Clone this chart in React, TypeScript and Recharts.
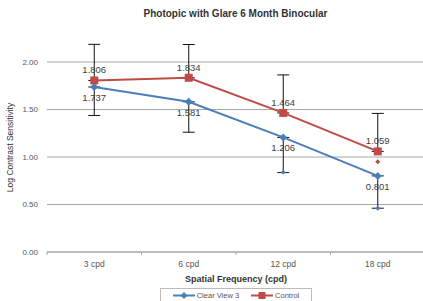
import {
  LineChart,
  Line,
  XAxis,
  YAxis,
  CartesianGrid,
  ErrorBar,
  LabelList,
} from "recharts";

const categories = ["3 cpd", "6 cpd", "12 cpd", "18 cpd"];
const clearView = [1.737, 1.581, 1.206, 0.801];
const control = [1.806, 1.834, 1.464, 1.059];
// blue bars hang below, red bars rise above
const clearViewErrDown = [0.3, 0.32, 0.37, 0.34];
const controlErrUp = [0.38, 0.35, 0.4, 0.4];
// small coloured end markers seen on some bars
const clearViewTips = [null, null, 0.84, 0.46];
const controlTips = [null, null, null, 0.95];
const yTicks = [0, 0.5, 1, 1.5, 2];

const BLUE = "#4a7ebb";
const RED = "#be4b48";
const FONT = "'Liberation Sans', Arial, sans-serif";

const data = categories.map((cat, i) => ({
  cat,
  clearView: clearView[i],
  control: control[i],
  cvErr: [clearViewErrDown[i], 0],
  ctErr: [0, controlErrUp[i]],
  cvTip: clearViewTips[i],
  ctTip: controlTips[i],
}));

const fmt = (v: any) => Number(v).toFixed(3);

function Diamond(props: any) {
  const { cx, cy, fill, r = 3.5 } = props;
  if (cx == null || cy == null) return null;
  return (
    <polygon
      points={`${cx},${cy - r} ${cx + r},${cy} ${cx},${cy + r} ${cx - r},${cy}`}
      fill={fill}
    />
  );
}

function Square(props: any) {
  const { cx, cy, fill } = props;
  if (cx == null || cy == null) return null;
  return <rect x={cx - 4} y={cy - 4} width={8} height={8} fill={fill} />;
}

// category label plus Excel-style tick marks on the band edges
function CatTick(props: any) {
  const { x, y, payload, index, width, visibleTicksCount } = props;
  const count = visibleTicksCount || categories.length;
  const half = width ? width / count / 2 : 0;
  const axisY = y - 9;
  const last = index === count - 1;
  return (
    <g>
      {half > 0 && (
        <line x1={x - half} x2={x - half} y1={axisY} y2={axisY + 3} stroke="#a6a6a6" />
      )}
      {half > 0 && last && (
        <line x1={x + half} x2={x + half} y1={axisY} y2={axisY + 3} stroke="#a6a6a6" />
      )}
      <text
        x={x}
        y={y}
        dy="0.71em"
        textAnchor="middle"
        fontSize={8.5}
        fill="#555"
        fontFamily={FONT}
      >
        {payload.value}
      </text>
    </g>
  );
}

export default function App() {
  return (
    <div
      style={{
        position: "absolute",
        left: 0,
        top: 0,
        width: 423,
        height: 301,
        overflow: "hidden",
        background: "#fff",
        fontFamily: FONT,
      }}
    >
      <div
        style={{
          position: "absolute",
          top: 8,
          left: 0,
          width: 471,
          textAlign: "center",
          fontSize: 10,
          fontWeight: 600,
          color: "#333",
        }}
      >
        Photopic with Glare 6 Month Binocular
      </div>

      <LineChart
        width={430}
        height={301}
        data={data}
        margin={{ top: 43, right: 5, bottom: 35, left: 0 }}
      >
        <CartesianGrid
          vertical={false}
          horizontalValues={yTicks}
          stroke="#a6a6a6"
          strokeWidth={1}
        />
        <XAxis
          dataKey="cat"
          scale="band"
          height={14}
          tickLine={false}
          axisLine={{ stroke: "#a6a6a6" }}
          tickSize={0}
          tickMargin={9}
          tick={<CatTick />}
        />
        <YAxis
          domain={[0, 2.2]}
          ticks={yTicks}
          width={47}
          axisLine={false}
          tickLine={false}
          tickSize={0}
          tickMargin={9}
          tickFormatter={(v) => Number(v).toFixed(2)}
          tick={{ fontSize: 8, fill: "#555", fontFamily: FONT }}
          label={{
            value: "Log Contrast Sensitivity",
            angle: -90,
            position: "insideLeft",
            offset: 10,
            style: { fontSize: 8.5, fill: "#333", textAnchor: "middle", fontFamily: FONT },
          }}
        />
        <Line
          dataKey="clearView"
          stroke={BLUE}
          strokeWidth={2}
          dot={<Diamond fill={BLUE} r={4} />}
          activeDot={false}
          isAnimationActive={false}
        >
          <ErrorBar dataKey="cvErr" direction="y" width={6} stroke="#111" strokeWidth={1} />
          <LabelList
            dataKey="clearView"
            position="bottom"
            offset={7}
            formatter={fmt}
            style={{ fontSize: 9.5, fill: "#404040", fontFamily: FONT }}
          />
        </Line>
        <Line
          dataKey="control"
          stroke={RED}
          strokeWidth={2}
          dot={<Square fill={RED} />}
          activeDot={false}
          isAnimationActive={false}
        >
          <ErrorBar dataKey="ctErr" direction="y" width={6} stroke="#111" strokeWidth={1} />
          <LabelList
            dataKey="control"
            position="top"
            offset={7}
            formatter={fmt}
            style={{ fontSize: 9.5, fill: "#404040", fontFamily: FONT }}
          />
        </Line>
        <Line
          dataKey="cvTip"
          stroke="none"
          dot={<Diamond fill={BLUE} r={2.5} />}
          activeDot={false}
          legendType="none"
          isAnimationActive={false}
        />
        <Line
          dataKey="ctTip"
          stroke="none"
          dot={<Diamond fill={RED} r={2.5} />}
          activeDot={false}
          legendType="none"
          isAnimationActive={false}
        />
      </LineChart>

      <div
        style={{
          position: "absolute",
          top: 274,
          left: 0,
          width: 472,
          textAlign: "center",
          fontSize: 9,
          fontWeight: 600,
          color: "#333",
        }}
      >
        Spatial Frequency (cpd)
      </div>

      <div
        style={{
          position: "absolute",
          top: 288,
          left: 160,
          width: 152,
          height: 18,
          border: "1px solid #bbb",
          boxSizing: "border-box",
          display: "flex",
          alignItems: "flex-start",
          paddingTop: 2,
          justifyContent: "center",
          gap: 12,
          fontSize: 7.5,
          color: "#555",
        }}
      >
        <LegendItem color={BLUE} label="Clear View 3" shape="diamond" />
        <LegendItem color={RED} label="Control" shape="square" />
      </div>
    </div>
  );
}

function LegendItem({
  color,
  label,
  shape,
}: {
  color: string;
  label: string;
  shape: "diamond" | "square";
}) {
  return (
    <div style={{ display: "flex", alignItems: "center", gap: 2 }}>
      <svg width={22} height={9}>
        <line x1={0} y1={4.5} x2={22} y2={4.5} stroke={color} strokeWidth={2} />
        {shape === "diamond" ? (
          <polygon points="11,1 14.5,4.5 11,8 7.5,4.5" fill={color} />
        ) : (
          <rect x={7.5} y={1} width={7} height={7} fill={color} />
        )}
      </svg>
      <span>{label}</span>
    </div>
  );
}
